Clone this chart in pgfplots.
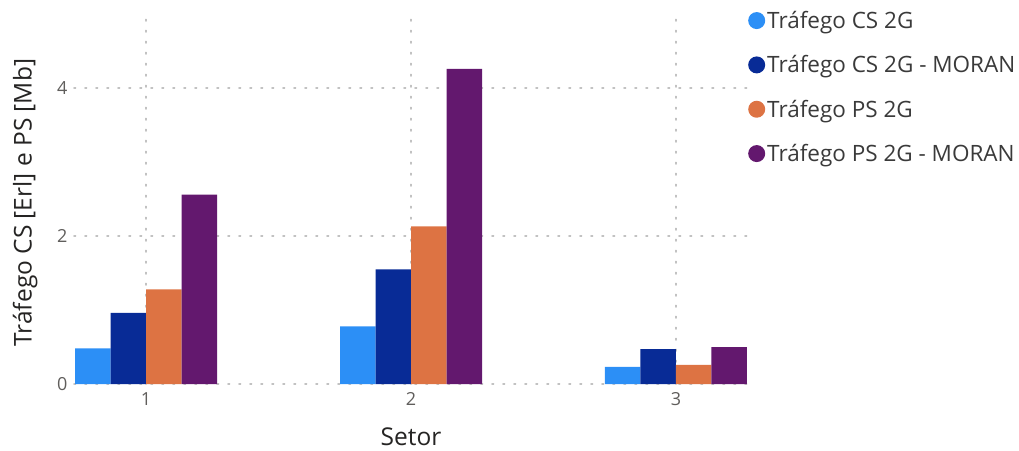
\documentclass[border=0pt]{standalone}
\usepackage{pgfplots}
\pgfplotsset{compat=1.18}
\usepackage{fontspec}
\setmainfont{Open Sans}
\definecolor{cA}{HTML}{2C8FF6}
\definecolor{cB}{HTML}{082B96}
\definecolor{cC}{HTML}{DD7343}
\definecolor{cD}{HTML}{63186E}
\definecolor{tickgray}{HTML}{605E5C}
\definecolor{titlegray}{HTML}{252423}
\definecolor{leggray}{HTML}{3A3A3A}
\begin{document}
\begin{tikzpicture}
\useasboundingbox (-74pt,-66pt) rectangle (945pt,384pt);
\begin{axis}[
  scale only axis,
  width=674pt, height=370pt,
  xmin=0.728, xmax=3.272,
  ymin=0, ymax=5,
  ybar=0pt, bar width=35.5pt,
  xtick={1,2,3}, ytick={0,2,4},
  major tick length=0pt,
  axis line style={draw=none},
  grid=major,
  major grid style={line width=1.6pt, color=black!24, dash pattern=on 1.6pt off 9.4pt, line cap=round},
  /pgf/number format/assume math mode=true,
  ticklabel style={font=\fontsize{18}{21}\selectfont, text=tickgray},
  yticklabel style={xshift=-3pt},
  xticklabel style={yshift=-5pt},
  xlabel={Setor},
  ylabel={Tráfego CS [Erl] e PS [Mb]},
  label style={font=\fontsize{24.5}{28}\selectfont, text=titlegray},
  xlabel style={at={(axis description cs:0.5,-0.143)}, anchor=center},
  ylabel style={at={(axis description cs:-0.0725,0.49)}, anchor=center, rotate=0},
  legend style={draw=none, fill=none, at={(axis description cs:1,1)}, anchor=north west,
    xshift=0pt, yshift=5pt, font=\fontsize{22.5}{26}\selectfont, text=leggray,
    legend cell align=left, row sep=21.6pt, inner sep=0pt},
  legend image code/.code={\fill[#1] (8.5pt,0pt) circle (8.5pt);},
  clip=false,
]
\addplot[fill=cA, draw=none] coordinates {(1,0.48) (2,0.78) (3,0.23)};
\addplot[fill=cB, draw=none] coordinates {(1,0.96) (2,1.55) (3,0.47)};
\addplot[fill=cC, draw=none] coordinates {(1,1.28) (2,2.13) (3,0.26)};
\addplot[fill=cD, draw=none] coordinates {(1,2.56) (2,4.26) (3,0.50)};
\legend{Tráfego CS 2G, Tráfego CS 2G - MORAN, Tráfego PS 2G, Tráfego PS 2G - MORAN}
\end{axis}
\end{tikzpicture}
\end{document}
